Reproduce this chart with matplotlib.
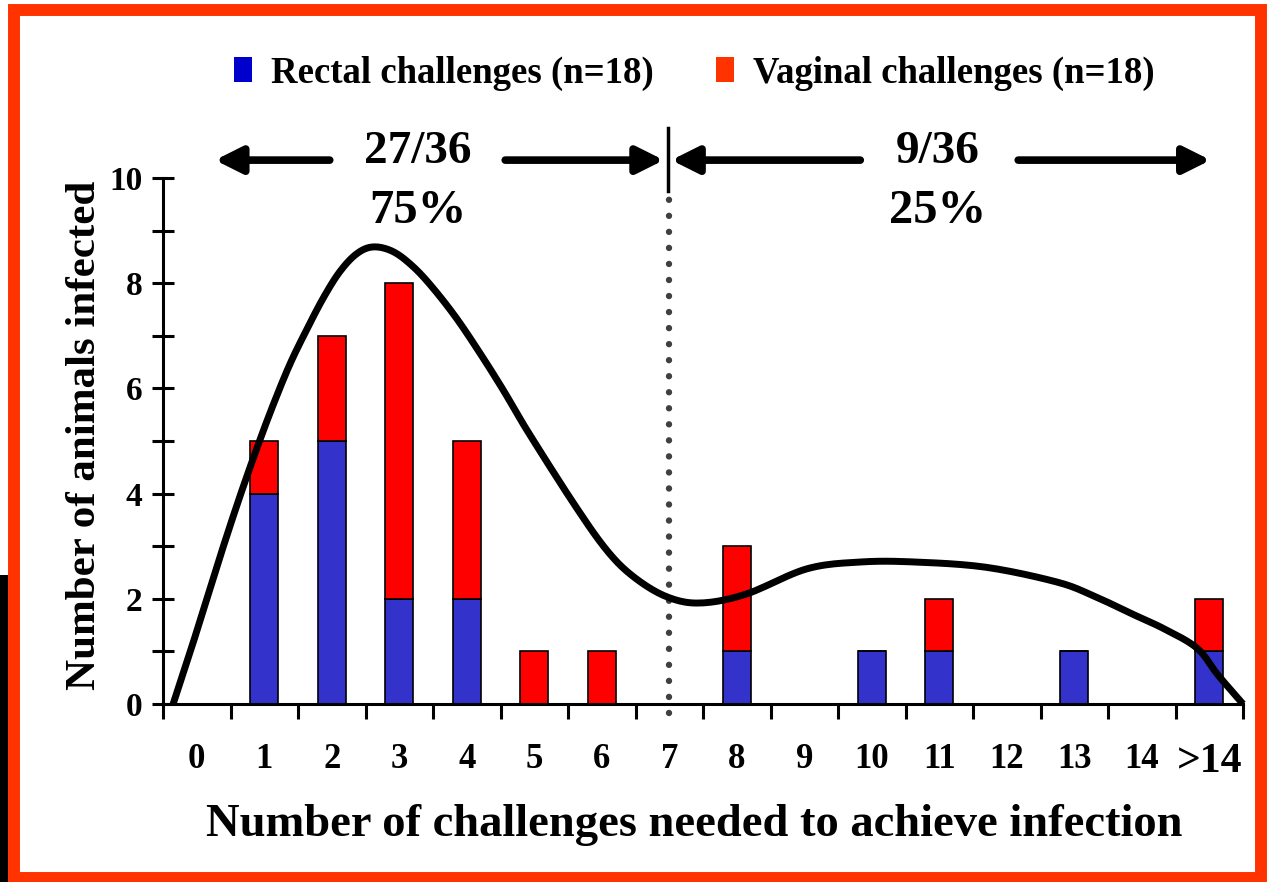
import matplotlib
matplotlib.use("Agg")
import matplotlib.pyplot as plt
import numpy as np
from matplotlib.patches import Rectangle, Patch

plt.rcParams["font.family"] = ["Liberation Serif", "DejaVu Serif"]
plt.rcParams["font.weight"] = "bold"

# Данные
categories = ["0", "1", "2", "3", "4", "5", "6", "7", "8", "9", "10", "11", "12", "13", "14", ">14"]
rectal = [0, 4, 5, 2, 2, 0, 0, 0, 1, 0, 1, 1, 0, 1, 0, 1]
vaginal = [0, 1, 2, 6, 3, 1, 1, 0, 2, 0, 0, 1, 0, 0, 0, 1]

# Сглаженная кривая распределения (точки)
curve_x = [-0.35, -0.075, 0.15, 0.39, 0.64, 0.89, 1.13, 1.38, 1.63, 1.875, 2.12, 2.37,
           2.615, 2.91, 3.21, 3.505, 3.85, 4.196, 4.54, 4.89, 5.58, 6.07, 6.47, 6.96,
           7.46, 8.14, 9.04, 9.84, 10.63, 11.69, 12.74, 13.28, 13.81, 14.33, 14.82,
           15.13, 15.5]
curve_y = [0.0, 1.08, 2.0, 2.98, 3.95, 4.86, 5.68, 6.46, 7.12, 7.72, 8.22, 8.56,
           8.69, 8.60, 8.31, 7.90, 7.33, 6.67, 5.97, 5.21, 3.82, 2.93, 2.42, 2.04,
           1.92, 2.09, 2.57, 2.70, 2.70, 2.60, 2.32, 2.06, 1.74, 1.43, 1.06,
           0.55, 0.0]

split_at = 7
left_share = ["27/36", "75%"]
right_share = ["9/36", "25%"]


def smooth_path(xs, ys, steps=12):
    """Catmull-Rom: только для отрисовки гладкой линии через снятые точки."""
    p = np.column_stack([xs, ys])
    p = np.vstack([2 * p[0] - p[1], p, 2 * p[-1] - p[-2]])
    out = []
    t = np.linspace(0, 1, steps, endpoint=False)[:, None]
    for i in range(1, len(p) - 2):
        p0, p1, p2, p3 = p[i - 1], p[i], p[i + 1], p[i + 2]
        seg = 0.5 * (2 * p1 + (-p0 + p2) * t + (2 * p0 - 5 * p1 + 4 * p2 - p3) * t ** 2
                     + (-p0 + 3 * p1 - 3 * p2 + p3) * t ** 3)
        out.append(seg)
    out.append(p[-2][None, :])
    out = np.vstack(out)
    return out[:, 0], out[:, 1]


W, H = 1268, 882
fig = plt.figure(figsize=(W / 100, H / 100), dpi=100)
ax = fig.add_axes([163 / W, 1 - 704 / H, (1243 - 163) / W, (704 - 178) / H])

x = np.arange(len(categories))
ax.bar(x, rectal, width=0.42, color="#3333CC", edgecolor="black", linewidth=1.2, zorder=2)
ax.bar(x, vaginal, width=0.42, bottom=rectal, color="#FF0000", edgecolor="black",
       linewidth=1.2, zorder=2)

sx, sy = smooth_path(curve_x, curve_y)
ax.plot(sx, sy, color="black", linewidth=5.0, solid_capstyle="butt",
        solid_joinstyle="round", zorder=4, clip_on=False)

ax.set_xlim(-0.5, len(categories) - 0.5)
ax.set_ylim(0, 10)

for side in ["top", "right"]:
    ax.spines[side].set_visible(False)
for side in ["left", "bottom"]:
    ax.spines[side].set_linewidth(2.2)

# Ось X: засечки на границах категорий, подписи по центрам
ax.set_xticks(x)
ax.set_xticklabels(categories)
ax.set_xticks(np.arange(-0.5, len(categories)), minor=True)
ax.tick_params(axis="x", which="major", length=0, pad=28, labelsize=25)
ax.tick_params(axis="x", which="minor", length=11, width=2.2, direction="out")
ax.get_xticklabels()[-1].set_fontsize(30)

ax.set_yticks(np.arange(0, 11, 2))
ax.set_yticks(np.arange(1, 11, 2), minor=True)
ax.tick_params(axis="y", which="both", direction="inout", length=16, width=2.2,
               labelsize=24, pad=7)

ax.set_xlabel("Number of challenges needed to achieve infection", fontsize=33.5,
              fontweight="bold")
ax.xaxis.set_label_coords((694 - 163) / 1080, -(804 - 704) / 526)
ax.set_ylabel("Number of animals infected", fontsize=31, fontweight="bold")
ax.yaxis.set_label_coords(-(163 - 104) / 1080, (704 - 435) / 526)

# Разделительная линия
ax.plot([split_at, split_at], [-0.17, 9.6], linestyle=(0, (0.01, 2.5)), color="#404040",
        linewidth=4.6, dash_capstyle="round", clip_on=False, zorder=3)
ax.plot([split_at - 0.02, split_at - 0.02], [9.75, 10.95], color="black", linewidth=2.5,
        clip_on=False)

arrow_kw = dict(arrowstyle="-|>,head_length=0.8,head_width=0.4", color="black",
                linewidth=5.5, shrinkA=0, shrinkB=0, mutation_scale=20)
arrow_y = 10.34
for x0, x1 in [(1.97, 0.27), (4.57, 6.92), (9.83, 7.03), (12.17, 15.02)]:
    ax.annotate("", xy=(x1, arrow_y), xytext=(x0, arrow_y), arrowprops=arrow_kw,
                annotation_clip=False)

ax.text(3.28, 10.5, left_share[0], ha="center", va="center", fontsize=34, fontweight="bold")
ax.text(3.28, 9.37, left_share[1], ha="center", va="center", fontsize=35, fontweight="bold")
ax.text(10.97, 10.5, right_share[0], ha="center", va="center", fontsize=34, fontweight="bold")
ax.text(10.97, 9.37, right_share[1], ha="center", va="center", fontsize=35, fontweight="bold")

handles = [Patch(facecolor="#0000CC", edgecolor="none", label="Rectal challenges (n=18)"),
           Patch(facecolor="#FF3300", edgecolor="none", label="Vaginal challenges (n=18)")]
fig.legend(handles=handles, loc="center", bbox_to_anchor=(694 / W, 1 - 73 / H), ncol=2,
           frameon=False, handlelength=0.5, handleheight=0.7,
           handletextpad=0.5, columnspacing=1.7, prop={"weight": "bold", "size": 26.5})

# Рамка вокруг слайда
fig.patches.append(Rectangle((14 / W, 1 - 878 / H), (1261 - 14) / W, (878 - 9.5) / H,
                             transform=fig.transFigure, fill=False, edgecolor="#FF3300",
                             linewidth=8.6))
fig.patches.append(Rectangle((0, 0), 8 / W, (882 - 575) / H, transform=fig.transFigure,
                             facecolor="black", edgecolor="none"))

fig.savefig("out.png", dpi=100, facecolor="white")
